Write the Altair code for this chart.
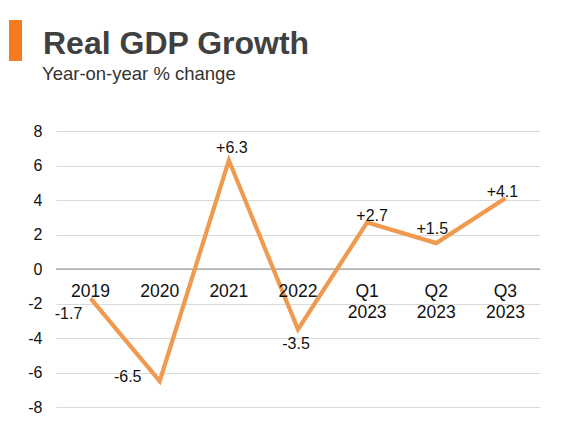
import altair as alt
import pandas as pd

title_text = "Real GDP Growth"
subtitle_text = "Year-on-year % change"
categories = ["2019", "2020", "2021", "2022", "Q1\n2023", "Q2\n2023", "Q3\n2023"]
growth = [-1.7, -6.5, 6.3, -3.5, 2.7, 1.5, 4.1]
value_labels = ["-1.7", "-6.5", "+6.3", "-3.5", "+2.7", "+1.5", "+4.1"]
y_ticks = [-8, -6, -4, -2, 0, 2, 4, 6, 8]

df = pd.DataFrame({"cat": categories, "val": growth, "lab": value_labels})

# label offsets (style only): dx, dy relative to each point
label_offsets = {
    "2019": (-22, 16),
    "2020": (-32, -4),
    "2021": (3, -12),
    "2022": (-2, 15),
    "Q1\n2023": (5, -6),
    "Q2\n2023": (-4, -14),
    "Q3\n2023": (-3, -6),
}

FONT = "Liberation Sans"
ORANGE_LINE = "#F09A50"

x_enc = alt.X("cat:N", sort=categories, axis=None,
              scale=alt.Scale(type="point", padding=0.5))
y_scale = alt.Scale(domain=[-8, 8], nice=False, zero=False)
y_axis = alt.Axis(values=y_ticks, tickCount=9, title=None, domain=False, ticks=False,
                  labelOverlap=False, labelExpr="'' + datum.value",
                  labelPadding=14, labelFontSize=16, labelFont=FONT,
                  labelColor="#111111", grid=True, gridColor="#d9d9d9", gridWidth=1)


def y_enc(field):
    return alt.Y(field, scale=y_scale, axis=y_axis)


base = alt.Chart(df)

zero = alt.Chart(pd.DataFrame({"val": [0]})).mark_rule(color="#8a8a8a", strokeWidth=1).encode(
    y=y_enc("val:Q")
)

line = base.mark_line(color=ORANGE_LINE, strokeWidth=4.2, strokeJoin="miter").encode(
    x=x_enc, y=y_enc("val:Q")
)

cat_labels = base.mark_text(font=FONT, fontSize=17.5, color="#111111",
                            baseline="alphabetic", lineBreak="\n", lineHeight=21).encode(
    x=x_enc, y=alt.value(166), text="cat:N"
)

value_layers = []
for c, (dx, dy) in label_offsets.items():
    value_layers.append(
        base.transform_filter(alt.datum.cat == c).mark_text(
            font=FONT, fontSize=16, color="#111111", dx=dx, dy=dy, baseline="middle"
        ).encode(x=x_enc, y=y_enc("val:Q"), text="lab:N")
    )

accent = alt.Chart(pd.DataFrame({"a": [0]})).mark_rect(color="#F47B20").encode(
    x=alt.value(-47), x2=alt.value(-34), y=alt.value(-111), y2=alt.value(-70)
)

title_mark = alt.Chart(pd.DataFrame({"t": [title_text]})).mark_text(
    font=FONT, fontSize=32, fontWeight="bold", color="#404040",
    align="left", baseline="alphabetic"
).encode(x=alt.value(-13), y=alt.value(-77), text="t:N")

subtitle_mark = alt.Chart(pd.DataFrame({"t": [subtitle_text]})).mark_text(
    font=FONT, fontSize=18.5, color="#333333", align="left", baseline="alphabetic"
).encode(x=alt.value(-14), y=alt.value(-51), text="t:N")

chart = alt.layer(zero, line, cat_labels, *value_layers, accent,
                  title_mark, subtitle_mark).properties(
    width=484, height=276,
    padding={"left": 48, "top": 123, "right": 20, "bottom": 29},
    autosize=alt.AutoSizeParams(type="none"),
).configure_view(stroke=None)

chart.save("out.html", embed_options={"renderer": "svg", "actions": False})
